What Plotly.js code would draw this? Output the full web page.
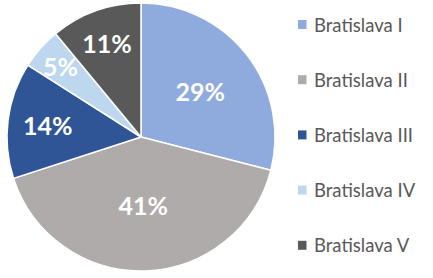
<!DOCTYPE html>
<html>
<head>
<meta charset="utf-8">
<script src="https://cdn.plot.ly/plotly-3.0.1.min.js"></script>
<style>html,body{margin:0;padding:0;background:#fff;}#chart{width:433px;height:278px;}</style>
</head>
<body>
<div id="chart"></div>
<script>
const labels = ["Bratislava I", "Bratislava II", "Bratislava III", "Bratislava IV", "Bratislava V"];
const values = [29, 41, 14, 5, 11];
const colors = ["#8FAADC", "#AFABAB", "#2F5597", "#BDD7EE", "#595959"];

const W = 433, H = 278;
const pieX = [7 / W, 275 / W], pieY = [1 - 271 / H, 1 - 3 / H];
const labelFont = {family: "Lato, 'Open Sans', sans-serif", size: 25, color: "#ffffff", weight: "bold"};
const total = values.reduce((a, b) => a + b, 0);
// small slices get their label as an annotation so it is not shrunk to fit
const small = values.map(v => v / total < 0.08);

const trace = {
  type: "pie",
  labels: labels,
  values: values,
  sort: false,
  direction: "clockwise",
  rotation: 0,
  marker: {colors: colors, line: {color: "#ffffff", width: 1.5}},
  texttemplate: values.map((v, i) => small[i] ? "" : "%{percent:.0%}"),
  textposition: "inside",
  insidetextorientation: "horizontal",
  textfont: labelFont,
  hoverinfo: "none",
  domain: {x: pieX, y: pieY},
  showlegend: false
};

const annotations = [];
const shapes = [];

// annotation labels for small slices, placed at slice mid-angle
const cx = (pieX[0] + pieX[1]) / 2 * W, cy = (1 - (pieY[0] + pieY[1]) / 2) * H;
const R = Math.min((pieX[1] - pieX[0]) * W, (pieY[1] - pieY[0]) * H) / 2;
let cum = 0;
values.forEach((v, i) => {
  const mid = (cum + v / 2) / total * 2 * Math.PI;
  cum += v;
  if (!small[i]) return;
  const px = cx + 0.8 * R * Math.sin(mid), py = cy - 0.8 * R * Math.cos(mid);
  annotations.push({
    xref: "paper", yref: "paper", x: px / W, y: 1 - py / H,
    xanchor: "center", yanchor: "middle", showarrow: false,
    text: Math.round(v / total * 100) + "%", font: labelFont
  });
});

const legendTop = 24.5, legendStep = 55.2;
labels.forEach((lab, i) => {
  const yc = legendTop + i * legendStep;
  shapes.push({
    type: "rect", xref: "paper", yref: "paper",
    x0: 298 / W, x1: 306.5 / W, y0: 1 - (yc + 4.5) / H, y1: 1 - (yc - 4.5) / H,
    fillcolor: colors[i], line: {width: 0}
  });
  annotations.push({
    xref: "paper", yref: "paper", x: 312 / W, y: 1 - yc / H,
    xanchor: "left", yanchor: "middle", showarrow: false,
    text: lab, font: {family: "Lato, 'Open Sans', sans-serif", size: 18.5, color: "#595959"}
  });
});

Plotly.newPlot("chart", [trace], {
  width: W, height: H,
  margin: {l: 0, r: 0, t: 0, b: 0},
  paper_bgcolor: "#ffffff",
  showlegend: false,
  shapes: shapes,
  annotations: annotations
}, {displayModeBar: false, staticPlot: true});
</script>
</body>
</html>
